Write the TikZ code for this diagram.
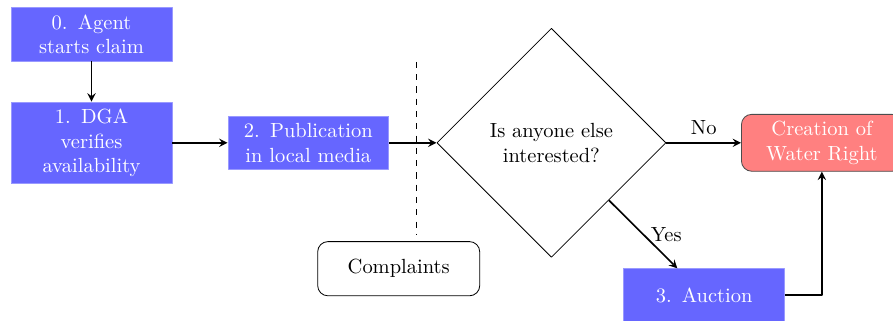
\documentclass[tikz,border=0pt]{standalone}
\usetikzlibrary{shapes.geometric}
\begin{document}
\begin{tikzpicture}[>=stealth,line join=round,
stepbox/.style={fill=blue!60,draw=blue!40,text=white,text width=2.3cm,align=center,minimum width=2.76cm,minimum height=0.9cm},
endbox/.style={stepbox,fill=red!50,draw=black!70,rounded corners=5pt},
notebox/.style={draw,rounded corners=5pt,align=center,minimum width=2.78cm,minimum height=0.93cm},
question/.style={diamond,draw,text width=2.3cm,align=center,minimum width=3.93cm,minimum height=3.93cm,inner sep=0pt}]
\clip (0,0) rectangle (15.32,5.49);
\path
(1.57,4.90) node[stepbox] (claim) {0. Agent starts claim}
(1.57,3.04) node[stepbox] (verify) {1. DGA verifies availability}
(5.29,3.04) node[stepbox] (publish) {2. Publication in local media}
(9.46,3.04) node[question] (interest) {Is anyone else interested?}
(14.10,3.04) node[endbox] (right) {Creation of Water Right}
(6.84,0.88) node[notebox] (complaints) {Complaints}
(12.08,0.43) node[stepbox] (auction) {3. Auction}
;
\coordinate (cuttop) at (7.14,4.43);
\coordinate (cutbot) at (7.14,1.46);
\draw[dashed] (cuttop)--(cutbot);
\draw[->,thick] (claim)--(verify);
\draw[->,thick] (verify)--(publish);
\draw[->,thick] (publish)--(interest);
\draw[->,thick] (interest)--(right)node[midway,above]{No};
\draw[->,thick] (interest.south east)--(auction)node[midway,right]{Yes};
\draw[->,thick] (auction)-|(right);
\end{tikzpicture}
\end{document}
